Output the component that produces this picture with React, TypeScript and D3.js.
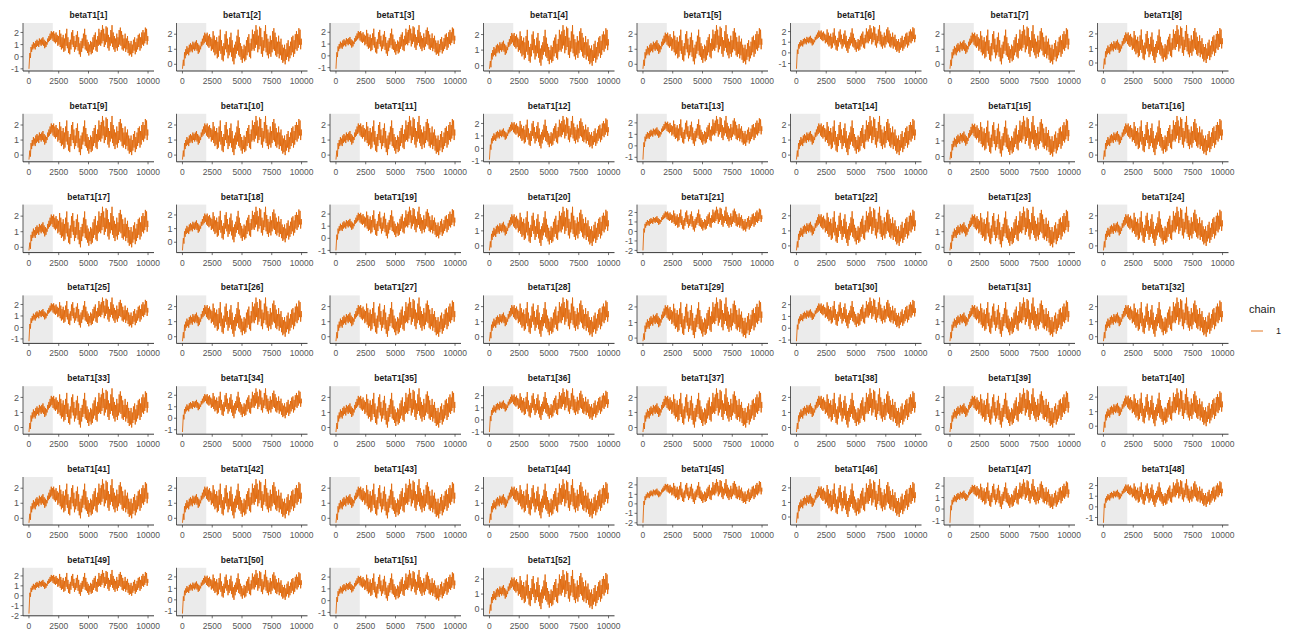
import React, { useEffect } from "react";
import * as d3 from "d3";

// ---- data ----
const paramNames: string[] = d3.range(1, 53).map((i) => `betaT1[${i}]`);

// Envelope of the trace per 100-iteration bin (low / high)
const traceLow: number[] = [
  -1.0, -0.1, 0.4, 0.6, 0.7, 0.6, 0.8, 0.9, 0.8, 1.0,
  0.9, 1.0, 0.9, 0.7, 0.8, 1.0, 1.2, 1.3, 1.4, 1.5,
  1.3, 1.2, 1.1, 1.2, 0.9, 1.0, 0.8, 0.6, 0.7, 0.4,
  0.5, 0.9, 0.7, 0.3, 0.2, 0.6, 1.0, 0.8, 0.4, 0.6,
  0.8, 0.5, 0.2, 0.0, 0.4, 0.7, 0.9, 0.6, 0.5, 0.3,
  0.1, 0.4, 0.2, 0.3, 0.6, 0.8, 0.5, 0.4, 0.9, 1.0,
  0.9, 1.1, 1.3, 0.8, 1.0, 1.2, 0.7, 0.5, 0.9, 1.1,
  0.8, 0.6, 0.4, 0.7, 0.5, 0.8, 1.0, 0.9, 0.6, 0.5,
  0.7, 0.4, 0.6, 0.3, 0.1, 0.2, 0.0, 0.3, 0.5, 0.2,
  0.4, 0.6, 0.8, 0.5, 0.7, 1.0, 0.9, 1.1, 1.3, 1.0,
];
const traceHigh: number[] = [
  0.3, 0.8, 1.0, 1.2, 1.1, 1.3, 1.4, 1.3, 1.5, 1.4,
  1.5, 1.6, 1.4, 1.3, 1.2, 1.5, 1.7, 1.9, 2.1, 2.0,
  2.1, 1.9, 2.0, 1.8, 1.7, 2.2, 1.9, 1.6, 1.8, 1.5,
  1.9, 2.3, 1.6, 1.2, 1.4, 2.0, 2.2, 1.7, 1.3, 1.8,
  2.1, 1.6, 1.1, 1.3, 1.5, 1.9, 2.3, 1.8, 1.4, 1.2,
  1.0, 1.3, 1.2, 1.6, 1.8, 2.0, 1.4, 1.7, 2.3, 2.0,
  2.2, 2.6, 2.3, 1.9, 2.5, 2.4, 1.8, 1.6, 2.2, 2.6,
  2.0, 1.7, 1.5, 1.9, 1.6, 2.2, 2.4, 2.1, 1.8, 1.5,
  1.9, 1.5, 1.7, 1.3, 1.1, 1.3, 1.0, 1.4, 1.6, 1.2,
  1.5, 1.8, 1.9, 1.6, 2.0, 2.2, 2.0, 2.4, 2.3, 1.7,
];
const traceEnd = 1.3;

// Starting (lowest) value of each parameter's chain
const startValues: number[] = [
  -1.0, -0.3, -1.1, -0.2, -0.3, -1.5, -0.3, -0.4,
  -0.3, -0.3, -0.3, -0.9, -1.2, -0.3, -0.2, -0.3,
  -0.2, -0.6, -1.0, -0.3, -2.0, -0.3, -0.2, -0.3,
  -1.2, -0.3, -0.3, -0.3, -0.2, -1.1, -0.3, -0.3,
  -0.3, -1.2, -0.3, -1.0, -0.3, -0.3, -0.3, -0.4,
  -0.3, -0.3, -0.3, -0.3, -2.0, -0.4, -1.2, -1.5,
  -1.8, -1.2, -1.1, -0.3,
];

const nIter = 10000;
const binSize = 100;
const warmup = 2000;
const xTicks: number[] = [0, 2500, 5000, 7500, 10000];
const chains: string[] = ["1"];

// ---- layout ----
const W = 1293;
const H = 633;
const nCol = 8;
const panelLeft0 = 23;
const panelTop0 = 23;
const colPitch = 153.5;
const rowPitch = 90.8;
const panelW = 131;
const panelH = 48;
const lineColor = "#e0690c";
const font = "'Liberation Sans', Arial, Helvetica, sans-serif";

function buildTrace(start: number): [number, number][] {
  const pts: [number, number][] = [[0, start]];
  for (let i = 0; i < traceLow.length; i++) {
    if (i > 0) pts.push([i * binSize + 25, traceLow[i]]);
    pts.push([i * binSize + 75, traceHigh[i]]);
  }
  pts.push([nIter, traceEnd]);
  return pts;
}

function Panel({ idx }: { idx: number }) {
  const c = idx % nCol;
  const r = Math.floor(idx / nCol);
  const left = panelLeft0 + c * colPitch;
  const top = panelTop0 + r * rowPitch;
  const data = buildTrace(startValues[idx]);
  const yMin = d3.min(data, (d) => d[1]) as number;
  const yMax = d3.max(data, (d) => d[1]) as number;
  const pad = (yMax - yMin) * 0.05;
  const x = d3.scaleLinear().domain([-nIter * 0.05, nIter * 1.05]).range([0, panelW]);
  const y = d3.scaleLinear().domain([yMin - pad, yMax + pad]).range([panelH, 0]);
  const yTicks = d3.range(Math.ceil(yMin - pad), Math.floor(yMax + pad) + 1);
  const line = d3.line<[number, number]>().x((d) => x(d[0])).y((d) => y(d[1]));
  return (
    <g transform={`translate(${left},${top})`}>
      <rect x={0} y={0} width={x(warmup)} height={panelH} fill="#ebebeb" />
      <path d={line(data) || ""} fill="none" stroke={lineColor} strokeWidth={0.9} strokeLinejoin="round" />
      <text x={panelW / 2} y={-5} textAnchor="middle" fontSize={8.5} fontWeight="bold" fill="#1a1a1a">
        {paramNames[idx]}
      </text>
      <line x1={0} x2={0} y1={0} y2={panelH} stroke="#333" strokeWidth={0.8} />
      <line x1={0} x2={panelW} y1={panelH} y2={panelH} stroke="#222" strokeWidth={0.9} />
      {yTicks.map((t) => (
        <g key={t}>
          <line x1={-2.5} x2={0} y1={y(t)} y2={y(t)} stroke="#333" strokeWidth={0.7} />
          <text x={-4} y={y(t)} dy="0.35em" textAnchor="end" fontSize={9} fill="#555">
            {t}
          </text>
        </g>
      ))}
      {xTicks.map((t) => (
        <g key={t}>
          <line x1={x(t)} x2={x(t)} y1={panelH} y2={panelH + 2.5} stroke="#333" strokeWidth={0.7} />
          <text x={x(t)} y={panelH + 13} textAnchor="middle" fontSize={8.5} fill="#555">
            {t}
          </text>
        </g>
      ))}
    </g>
  );
}

export default function App() {
  useEffect(() => {
    document.body.style.margin = "0";
  }, []);
  return (
    <svg width={W} height={H} style={{ display: "block", background: "#fff" }} fontFamily={font}>
      {paramNames.map((_, i) => (
        <Panel key={i} idx={i} />
      ))}
      <g transform="translate(1249,0)">
        <text x={0} y={313} fontSize={11} fill="#222">chain</text>
        {chains.map((ch, i) => (
          <g key={ch} transform={`translate(0,${331 + i * 16})`}>
            <line x1={2} x2={14} y1={0} y2={0} stroke={lineColor} strokeWidth={0.9} />
            <text x={27} y={0} dy="0.35em" fontSize={9} fill="#222">{ch}</text>
          </g>
        ))}
      </g>
    </svg>
  );
}
